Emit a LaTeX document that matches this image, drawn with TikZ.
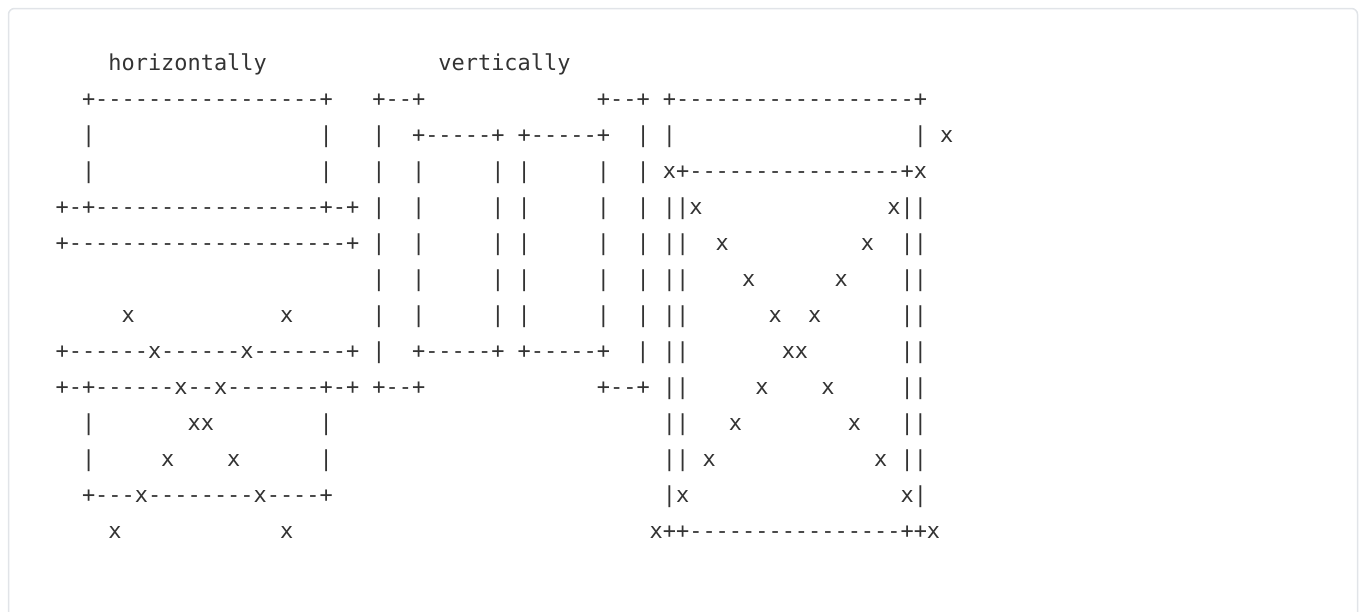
\documentclass[tikz,border=0pt]{standalone}
\usepackage{fontspec}
\setmonofont{DejaVu Sans Mono}
\usetikzlibrary{positioning}
\definecolor{ink}{RGB}{51,51,51}
\definecolor{frameline}{RGB}{225,228,232}
\newcommand\gap[1]{\kern#1\fontcharwd\font`x\relax}
\newcommand\vbars{|\gap{2}|\gap{5}|\gap{1}|\gap{5}|\gap{2}|}

\begin{document}
\begin{tikzpicture}[
  x=1pt, y=1pt,
  asciirow/.style={inner sep=0pt, anchor=base west, text=ink,
    font=\ttfamily\fontsize{21.93}{36}\selectfont},
  nextrow/.style={below=35.97pt of #1.base west, anchor=base west}
]
\useasboundingbox (0,0) rectangle (1359,-611);
\draw[frameline, line width=1.5pt, rounded corners=6pt] (8.5,-8.5) rectangle (1357.5,-660);

\node[asciirow] (r0) at (55.4,-70.7) {\gap{4}horizontally\gap{13}vertically};
\node[asciirow, nextrow=r0] (r1) {\gap{2}+-----------------+\gap{3}+--+\gap{13}+--+\gap{1}+------------------+};
\node[asciirow, nextrow=r1] (r2) {\gap{2}|\gap{17}|\gap{3}|\gap{2}+-----+\gap{1}+-----+\gap{2}|\gap{1}|\gap{18}|\gap{1}x};
\node[asciirow, nextrow=r2] (r3) {\gap{2}|\gap{17}|\gap{3}\vbars\gap{1}x+----------------+x};
\node[asciirow, nextrow=r3] (r4) {+-+-----------------+-+\gap{1}\vbars\gap{1}||x\gap{14}x||};
\node[asciirow, nextrow=r4] (r5) {+---------------------+\gap{1}\vbars\gap{1}||\gap{2}x\gap{10}x\gap{2}||};
\node[asciirow, nextrow=r5] (r6) {\gap{24}\vbars\gap{1}||\gap{4}x\gap{6}x\gap{4}||};
\node[asciirow, nextrow=r6] (r7) {\gap{5}x\gap{11}x\gap{6}\vbars\gap{1}||\gap{6}x\gap{2}x\gap{6}||};
\node[asciirow, nextrow=r7] (r8) {+------x------x-------+\gap{1}|\gap{2}+-----+\gap{1}+-----+\gap{2}|\gap{1}||\gap{7}xx\gap{7}||};
\node[asciirow, nextrow=r8] (r9) {+-+------x--x-------+-+\gap{1}+--+\gap{13}+--+\gap{1}||\gap{5}x\gap{4}x\gap{5}||};
\node[asciirow, nextrow=r9] (r10) {\gap{2}|\gap{7}xx\gap{8}|\gap{25}||\gap{3}x\gap{8}x\gap{3}||};
\node[asciirow, nextrow=r10] (r11) {\gap{2}|\gap{5}x\gap{4}x\gap{6}|\gap{25}||\gap{1}x\gap{12}x\gap{1}||};
\node[asciirow, nextrow=r11] (r12) {\gap{2}+---x--------x----+\gap{25}|x\gap{16}x|};
\node[asciirow, nextrow=r12] (r13) {\gap{4}x\gap{12}x\gap{27}x++----------------++x};
\end{tikzpicture}
\end{document}
